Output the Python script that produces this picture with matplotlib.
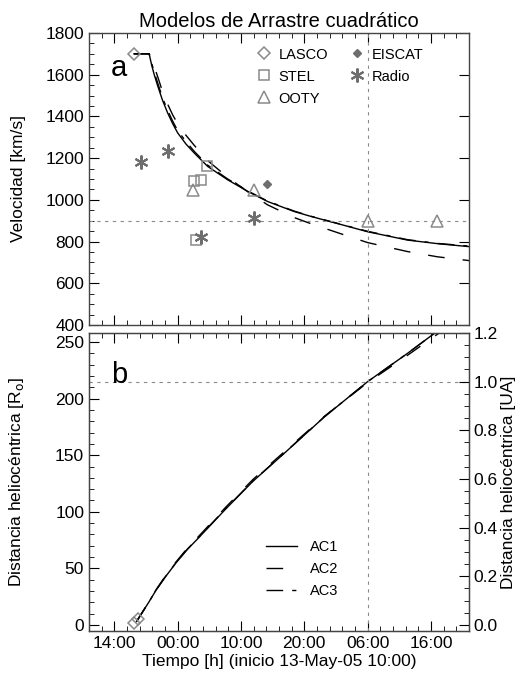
#!/usr/bin/env python3
"""Quadratic drag models: CME speed and heliocentric distance vs time."""
import matplotlib
matplotlib.use("Agg")
import matplotlib.pyplot as plt
from matplotlib.lines import Line2D
from matplotlib.ticker import MultipleLocator

plt.rcParams["font.family"] = ["Liberation Sans", "DejaVu Sans"]

# time in hours since 13-May-05 10:00
tick_hours = [4, 14, 24, 34, 44, 54]
tick_labels = ["14:00", "00:00", "10:00", "20:00", "06:00", "16:00"]

# model speeds [km/s]
t_v = [7.1, 9.5, 9.9, 10.3, 10.85, 11.6, 12.4, 13.2, 14.0, 15.3, 16.6, 18.75,
       21.9, 25.1, 28.2, 32.4, 35.1, 40.0, 44.0, 50.3, 55.0, 60.2]
v_ac1 = [1700, 1700, 1645, 1600, 1546, 1478, 1418, 1366, 1321, 1268, 1225,
         1160, 1096, 1040, 992, 944, 920, 880, 847, 807, 790, 775]
v_ac2 = [1700, 1700, 1675, 1640, 1590, 1520, 1460, 1408, 1365, 1310, 1262,
         1188, 1108, 1038, 976, 915, 885, 835, 795, 752, 727, 708]
v_ac3 = [1700, 1700, 1655, 1612, 1560, 1490, 1430, 1378, 1332, 1280, 1233,
         1166, 1100, 1042, 994, 946, 921, 881, 849, 809, 791, 778]

# model distances [R_sun]
t_r = [7.5, 9.5, 10.6, 12.0, 13.7, 15.5, 17.4, 19.5, 21.6, 25.9, 30.9, 37.2,
       44.0, 50.3, 55.1, 57.0]
r_ac1 = [3, 20.6, 30.8, 42.0, 54.5, 66.5, 77.5, 90.0, 102.5, 127, 152, 184,
         215, 240, 260, 268]
r_ac2 = [3, 20.6, 31.1, 42.6, 55.4, 67.6, 78.8, 91.4, 104.1, 128.6, 153.3,
         184.5, 214.2, 238.3, 257.2, 264.6]
r_ac3 = [3, 20.6, 30.9, 42.2, 54.8, 66.8, 77.9, 90.4, 102.9, 127.3, 152.2,
         184.1, 215, 240, 260, 268]

# observations (time [h], speed [km/s])
lasco_t, lasco_v = [7.1], [1700]
stel_t, stel_v = [16.6, 17.7, 18.7, 16.9], [1088, 1096, 1164, 807]
ooty_t, ooty_v = [16.5, 26.1, 44.0, 55.0], [1048, 1048, 897, 897]
eiscat_t, eiscat_v = [28.1], [1077]
radio_t, radio_v = [8.2, 12.5, 17.7, 26.1], [1180, 1233, 823, 915]
# LASCO heights [R_sun]
lasco_rt, lasco_r = [7.1, 7.8], [1.5, 5.5]

v_ref = 900      # horizontal reference speed
t_ref = 44       # 15-May 06:00
au = 215.0       # R_sun per AU

GRAY = "#8a8a8a"
DGRAY = "#6e6e6e"
AC2_DASH = (12, 13)
AC3_DASH = (12, 6.5, 3, 6.5)


def style(ax):
    ax.tick_params(which="both", direction="in", top=True, labelsize=12.5)
    ax.tick_params(which="major", length=7)
    ax.tick_params(which="minor", length=3.5)
    for s in ax.spines.values():
        s.set_color("#444444")
        s.set_linewidth(1.0)


fig = plt.figure(figsize=(5.19, 6.81), dpi=100)
ax1 = fig.add_axes([0.1715, 0.5228, 0.732, 0.4288])
ax2 = fig.add_axes([0.1715, 0.0734, 0.732, 0.4376])

# ---- panel a ----
style(ax1)
ax1.tick_params(right=True)
ax1.plot(t_v, v_ac1, color="black", lw=1.0)
ax1.plot(t_v, v_ac2, color="black", lw=1.0, dashes=AC2_DASH)
ax1.plot(t_v, v_ac3, color="black", lw=1.0, dashes=AC3_DASH)
ax1.axhline(v_ref, color=GRAY, lw=0.8, dashes=(3, 4))
ax1.axvline(t_ref, color=GRAY, lw=0.8, dashes=(3, 4))

mk = dict(linestyle="none", markerfacecolor="none")
ax1.plot(lasco_t, lasco_v, marker="D", ms=6, mec=GRAY, mew=1.1, **mk)
ax1.plot(stel_t, stel_v, marker="s", ms=7, mec=GRAY, mew=1.1, **mk)
ax1.plot(ooty_t, ooty_v, marker="^", ms=9, mec=GRAY, mew=1.1, **mk)
ax1.plot(eiscat_t, eiscat_v, marker="D", ms=4, color=DGRAY, linestyle="none")
ax1.plot(radio_t, radio_v, marker=(6, 2, 0), ms=10, mec=DGRAY, mew=1.5,
         linestyle="none")

ax1.set_xlim(0, 60)
ax1.set_ylim(400, 1800)
ax1.xaxis.set_major_locator(plt.FixedLocator(tick_hours))
ax1.xaxis.set_minor_locator(MultipleLocator(2))
ax1.set_xticklabels([])
ax1.yaxis.set_major_locator(MultipleLocator(200))
ax1.yaxis.set_minor_locator(MultipleLocator(50))
ax1.set_ylabel("Velocidad [km/s]", fontsize=12.5)
ax1.yaxis.set_label_coords(-0.165, 0.5)
ax1.set_title("Modelos de Arrastre cuadrático", fontsize=14.5, pad=4)
ax1.text(0.058, 0.88, "a", transform=ax1.transAxes, fontsize=21,
         ha="left", va="center")

obs_handles = [
    Line2D([], [], marker="D", ms=6, mec=GRAY, mew=1.1, **mk),
    Line2D([], [], marker="s", ms=7, mec=GRAY, mew=1.1, **mk),
    Line2D([], [], marker="^", ms=9, mec=GRAY, mew=1.1, **mk),
    Line2D([], [], marker="D", ms=4, color=DGRAY, linestyle="none"),
    Line2D([], [], marker=(6, 2, 0), ms=10, mec=DGRAY, mew=1.5, linestyle="none"),
]
ax1.legend(obs_handles, ["LASCO", "STEL", "OOTY", "EISCAT", "Radio"],
           ncol=2, frameon=False, fontsize=10.5, loc="upper left",
           bbox_to_anchor=(0.422, 0.975), handlelength=1.0, handletextpad=0.5,
           labelspacing=0.55, columnspacing=1.5, borderpad=0)

# ---- panel b ----
style(ax2)
ax2.plot(t_r, r_ac1, color="black", lw=1.0, label="AC1")
ax2.plot(t_r, r_ac2, color="black", lw=1.0, dashes=AC2_DASH, label="AC2")
ax2.plot(t_r, r_ac3, color="black", lw=1.0, dashes=AC3_DASH, label="AC3")
ax2.plot(lasco_rt, lasco_r, marker="D", ms=6, mec=GRAY, mew=1.1, **mk)
ax2.axhline(au, color=GRAY, lw=0.8, dashes=(3, 4))
ax2.axvline(t_ref, color=GRAY, lw=0.8, dashes=(3, 4))

ax2.set_xlim(0, 60)
ax2.set_ylim(-5.4, 1.2 * au)
ax2.xaxis.set_major_locator(plt.FixedLocator(tick_hours))
ax2.xaxis.set_minor_locator(MultipleLocator(2))
ax2.set_xticklabels(tick_labels)
ax2.yaxis.set_major_locator(MultipleLocator(50))
ax2.yaxis.set_minor_locator(MultipleLocator(10))
ax2.set_xlabel("Tiempo [h] (inicio 13-May-05 10:00)", fontsize=12.5, labelpad=2)
ax2.set_ylabel(r"Distancia heliocéntrica [R$_\mathrm{o}$]", fontsize=12.5)
ax2.yaxis.set_label_coords(-0.165, 0.5)
ax2.text(0.058, 0.86, "b", transform=ax2.transAxes, fontsize=21,
         ha="left", va="center")
ax2.legend(frameon=False, fontsize=10.5, loc="upper left",
           bbox_to_anchor=(0.447, 0.33), handlelength=2.1, handletextpad=0.9,
           labelspacing=0.55, borderpad=0)

ax2r = ax2.twinx()
ax2r.set_ylim(-5.4 / au, 1.2)
ax2r.yaxis.set_major_locator(MultipleLocator(0.2))
ax2r.yaxis.set_minor_locator(MultipleLocator(0.05))
ax2r.yaxis.set_major_formatter(plt.FormatStrFormatter("%.1f"))
ax2r.tick_params(which="both", direction="in", labelsize=12.5)
ax2r.tick_params(which="major", length=7)
ax2r.tick_params(which="minor", length=3.5)
ax2r.set_ylabel("Distancia heliocéntrica [UA]", fontsize=12.5, labelpad=2)
for s in ax2r.spines.values():
    s.set_color("#444444")

fig.savefig("out.png", dpi=100)
